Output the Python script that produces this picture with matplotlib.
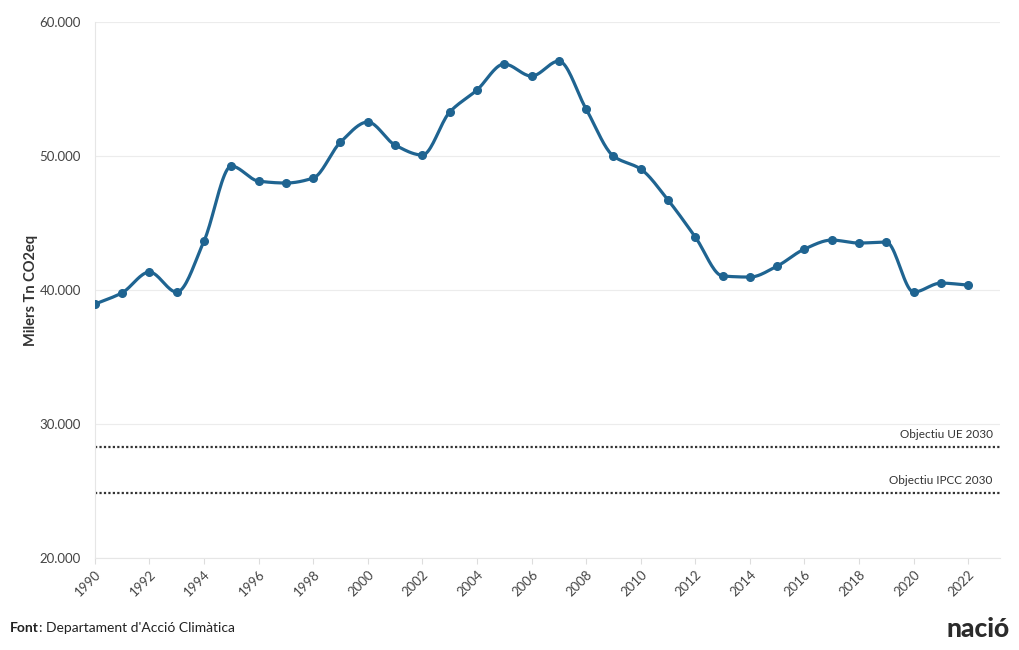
import matplotlib
matplotlib.use("Agg")
import matplotlib.pyplot as plt
import matplotlib.ticker as mticker
import numpy as np

years = list(range(1990, 2023))
emissions = [38950, 39800, 41340, 39850, 43660, 49250, 48130, 47990, 48360, 51040,
             52540, 50820, 50080, 53280, 54930, 56870, 55970, 57090, 53510, 50000,
             49030, 46720, 43960, 41050, 40970, 41790, 43060, 43730, 43510, 43580,
             39850, 40520, 40370]
target_ue = 28280
target_ipcc = 24850
target_labels = ["Objectiu UE 2030", "Objectiu IPCC 2030"]

LINE = "#1f6491"
plt.rcParams["font.family"] = ["Lato", "DejaVu Sans"]


def monotone(x, y, n=20):
    # monotone cubic (Fritsch-Carlson) to mimic the smoothed web line
    x = np.asarray(x, float)
    y = np.asarray(y, float)
    h = np.diff(x)
    d = np.diff(y) / h
    m = np.zeros_like(y)
    m[0], m[-1] = d[0], d[-1]
    for i in range(1, len(y) - 1):
        if d[i - 1] * d[i] <= 0:
            m[i] = 0
        else:
            m[i] = 2 / (1 / d[i - 1] + 1 / d[i])
    xs, ys = [], []
    for i in range(len(h)):
        t = np.linspace(0, 1, n, endpoint=False)
        h00 = 2 * t**3 - 3 * t**2 + 1
        h10 = t**3 - 2 * t**2 + t
        h01 = -2 * t**3 + 3 * t**2
        h11 = t**3 - t**2
        xs.append(x[i] + t * h[i])
        ys.append(h00 * y[i] + h10 * h[i] * m[i] + h01 * y[i + 1] + h11 * h[i] * m[i + 1])
    xs.append([x[-1]])
    ys.append([y[-1]])
    return np.concatenate(xs), np.concatenate(ys)


fig = plt.figure(figsize=(10.2, 6.5), dpi=100)
ax = fig.add_axes([0.093, 0.1415, 0.887, 0.8245])

sx, sy = monotone(years, emissions)
ax.plot(sx, sy, color=LINE, lw=2.3, zorder=3, solid_capstyle="round")
ax.plot(years, emissions, "o", color=LINE, ms=5.5, zorder=4)

for val, lab in zip([target_ue, target_ipcc], target_labels):
    ax.axhline(val, color="#333333", ls=(0, (1, 1)), lw=1.6, zorder=2)
    ax.text(2022.9, val + 550, lab, ha="right", va="bottom", fontsize=8.5, color="#333333")

ax.set_xlim(1990, 2023.15)
ax.set_ylim(20000, 60000)
ax.set_yticks([20000, 30000, 40000, 50000, 60000])
ax.yaxis.set_major_formatter(mticker.FuncFormatter(lambda v, p: f"{int(v):,}".replace(",", ".")))
ax.set_xticks(range(1990, 2023, 2))
ax.tick_params(axis="x", labelrotation=45, labelsize=9.5, colors="#444444", length=4, color="#dddddd")
ax.tick_params(axis="y", labelsize=9.5, colors="#444444", length=0, pad=10)
for lab in ax.get_xticklabels():
    lab.set_ha("right")
    lab.set_rotation_mode("anchor")

ax.grid(axis="y", color="#ececec", lw=0.8)
for s in ["top", "right"]:
    ax.spines[s].set_visible(False)
ax.spines["left"].set_color("#e6e6e6")
ax.spines["bottom"].set_color("#e6e6e6")
ax.set_ylabel("Milers Tn CO2eq", fontsize=10.5, fontweight="bold", color="#333333")
ax.yaxis.set_label_coords(-0.063, 0.5)

t1 = fig.text(0.010, 0.028, "Font", fontsize=10, fontweight="bold", color="#222222")
fig.canvas.draw()
bb = t1.get_window_extent().transformed(fig.transFigure.inverted())
fig.text(bb.x1, 0.028, ": Departament d'Acció Climàtica", fontsize=10, color="#222222")
fig.text(0.99, 0.02, "nació", fontsize=19, fontweight="black", color="#2b2b2b", ha="right")

fig.savefig("out.png", dpi=100)
